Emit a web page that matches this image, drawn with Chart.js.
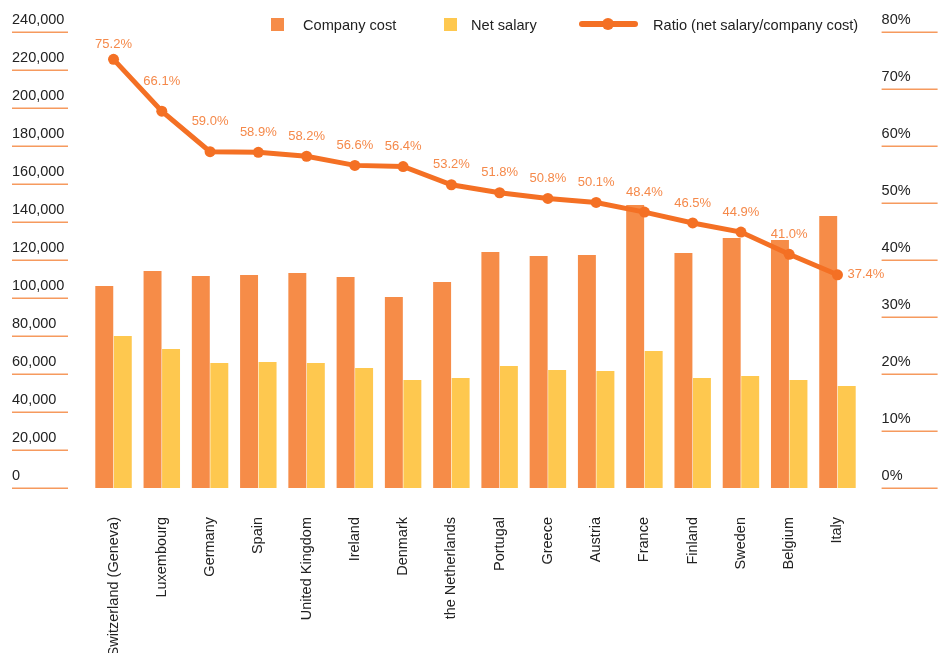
<!DOCTYPE html>
<html>
<head>
<meta charset="utf-8">
<script src="https://cdn.jsdelivr.net/npm/chart.js@4.4.1/dist/chart.umd.min.js"></script>
<style>
  html, body { margin: 0; padding: 0; background: #fff; }
  #wrap { position: relative; width: 946px; height: 653px; overflow: hidden; font-family: 'Liberation Sans', Arial, Helvetica, sans-serif; }
  #chart { position: absolute; left: 0; top: 0; }
  .box { position: absolute; top: 18px; width: 13px; height: 13px; }
  .lgline { position: absolute; top: 21px; height: 6px; border-radius: 3px; background: #f47024; }
  .lgdot { position: absolute; top: 18px; width: 12px; height: 12px; border-radius: 50%; background: #f47024; }
  .lgtext { position: absolute; top: 16px; font-size: 14.6px; line-height: 18px; color: #222; white-space: nowrap; }
</style>
</head>
<body>
<div id="wrap">
  <canvas id="chart" width="946" height="653"></canvas>
  <div class="box" style="left:271px;background:#f68c48;"></div>
  <div class="lgtext" style="left:303px;">Company cost</div>
  <div class="box" style="left:444px;background:#fec84f;"></div>
  <div class="lgtext" style="left:471px;">Net salary</div>
  <div class="lgline" style="left:579px;width:59px;"></div>
  <div class="lgdot" style="left:602px;"></div>
  <div class="lgtext" style="left:653px;">Ratio (net salary/company cost)</div>
</div>
<script>
const categories = ['Switzerland (Geneva)', 'Luxembourg', 'Germany', 'Spain', 'United Kingdom', 'Ireland', 'Denmark', 'the Netherlands', 'Portugal', 'Greece', 'Austria', 'France', 'Finland', 'Sweden', 'Belgium', 'Italy'];
const companyCost = [106300, 114200, 111600, 112100, 113200, 111100, 100500, 108400, 124200, 122100, 122600, 148900, 123700, 131600, 130500, 143200];
const netSalary = [80000, 73200, 65800, 66300, 65800, 63200, 56800, 57900, 64200, 62100, 61600, 72100, 57900, 58900, 56800, 53700];
const ratio = [75.2, 66.1, 59.0, 58.9, 58.2, 56.6, 56.4, 53.2, 51.8, 50.8, 50.1, 48.4, 46.5, 44.9, 41.0, 37.4];
const leftTicks = { min: 0, max: 240000, step: 20000 };
const rightTicks = { min: 0, max: 80, step: 10 };

const FONT = "'Liberation Sans', Arial, Helvetica, sans-serif";
const COST = '#f68c48', NET = '#fec84f', LINE = '#f47024', LABEL = '#f5894a', UNDER = '#f69a5e';

const underlinePlugin = {
  id: 'underlines',
  afterDraw(chart) {
    const ctx = chart.ctx;
    ctx.save();
    ctx.strokeStyle = UNDER;
    ctx.lineWidth = 1.5;
    const y = chart.scales.y, y1 = chart.scales.y1;
    y.ticks.forEach(t => {
      const py = Math.round(y.getPixelForValue(t.value)) + 0.25;
      ctx.beginPath(); ctx.moveTo(y.left, py); ctx.lineTo(y.left + 56, py); ctx.stroke();
    });
    y1.ticks.forEach(t => {
      const py = Math.round(y1.getPixelForValue(t.value)) + 0.25;
      ctx.beginPath(); ctx.moveTo(y1.left + 20, py); ctx.lineTo(y1.left + 76, py); ctx.stroke();
    });
    ctx.restore();
  }
};

const labelPlugin = {
  id: 'ratioLabels',
  afterDatasetsDraw(chart) {
    const ctx = chart.ctx;
    const meta = chart.getDatasetMeta(2);
    ctx.save();
    ctx.font = '13px ' + FONT;
    ctx.fillStyle = LABEL;
    ctx.textBaseline = 'middle';
    const pts = meta.data;
    pts.forEach((p, i) => {
      const txt = ratio[i].toFixed(1) + '%';
      if (i === pts.length - 1) {
        ctx.textAlign = 'left';
        ctx.fillText(txt, p.x + 10, p.y);
        return;
      }
      let off = 20;
      if (i === 0) off = 15;
      else if (p.y - pts[i - 1].y > 30) off = 30;
      ctx.textAlign = 'center';
      ctx.fillText(txt, p.x, p.y - off);
    });
    ctx.restore();
  }
};

new Chart(document.getElementById('chart'), {
  type: 'bar',
  data: {
    labels: categories,
    datasets: [
      { label: 'Company cost', data: companyCost, backgroundColor: COST, yAxisID: 'y', order: 2, categoryPercentage: 0.767, barPercentage: 0.97 },
      { label: 'Net salary', data: netSalary, backgroundColor: NET, yAxisID: 'y', order: 2, categoryPercentage: 0.767, barPercentage: 0.97 },
      { type: 'line', label: 'Ratio (net salary/company cost)', data: ratio, yAxisID: 'y1', order: 0,
        borderColor: LINE, backgroundColor: LINE, borderWidth: 5, pointRadius: 5.5, pointBackgroundColor: LINE, pointBorderWidth: 0, tension: 0 }
    ]
  },
  options: {
    responsive: false,
    animation: false,
    layout: { padding: { left: 12, right: 8, top: 32, bottom: 0 } },
    plugins: { legend: { display: false }, tooltip: { enabled: false } },
    scales: {
      x: {
        grid: { display: false, drawTicks: false },
        border: { display: false },
        ticks: { autoSkip: false, maxRotation: 90, minRotation: 90, padding: 29, color: '#222', font: { size: 14.5, family: FONT } },
        afterFit(scale) { scale.height = 165; }
      },
      y: {
        position: 'left',
        min: leftTicks.min, max: leftTicks.max,
        grid: { display: false, drawTicks: false },
        border: { display: false },
        ticks: { stepSize: leftTicks.step, crossAlign: 'far', labelOffset: -12, color: '#222', font: { size: 14.5, family: FONT },
          callback: v => Number(v).toLocaleString('en-US') },
        afterFit(scale) { scale.width = 77.4; }
      },
      y1: {
        position: 'right',
        min: rightTicks.min, max: rightTicks.max,
        grid: { display: false, drawTicks: false },
        border: { display: false },
        ticks: { stepSize: rightTicks.step, crossAlign: 'near', padding: 20, labelOffset: -12, color: '#222', font: { size: 14.5, family: FONT },
          callback: v => v + '%' },
        afterFit(scale) { scale.width = 76.4; }
      }
    }
  },
  plugins: [underlinePlugin, labelPlugin]
});
</script>
</body>
</html>
